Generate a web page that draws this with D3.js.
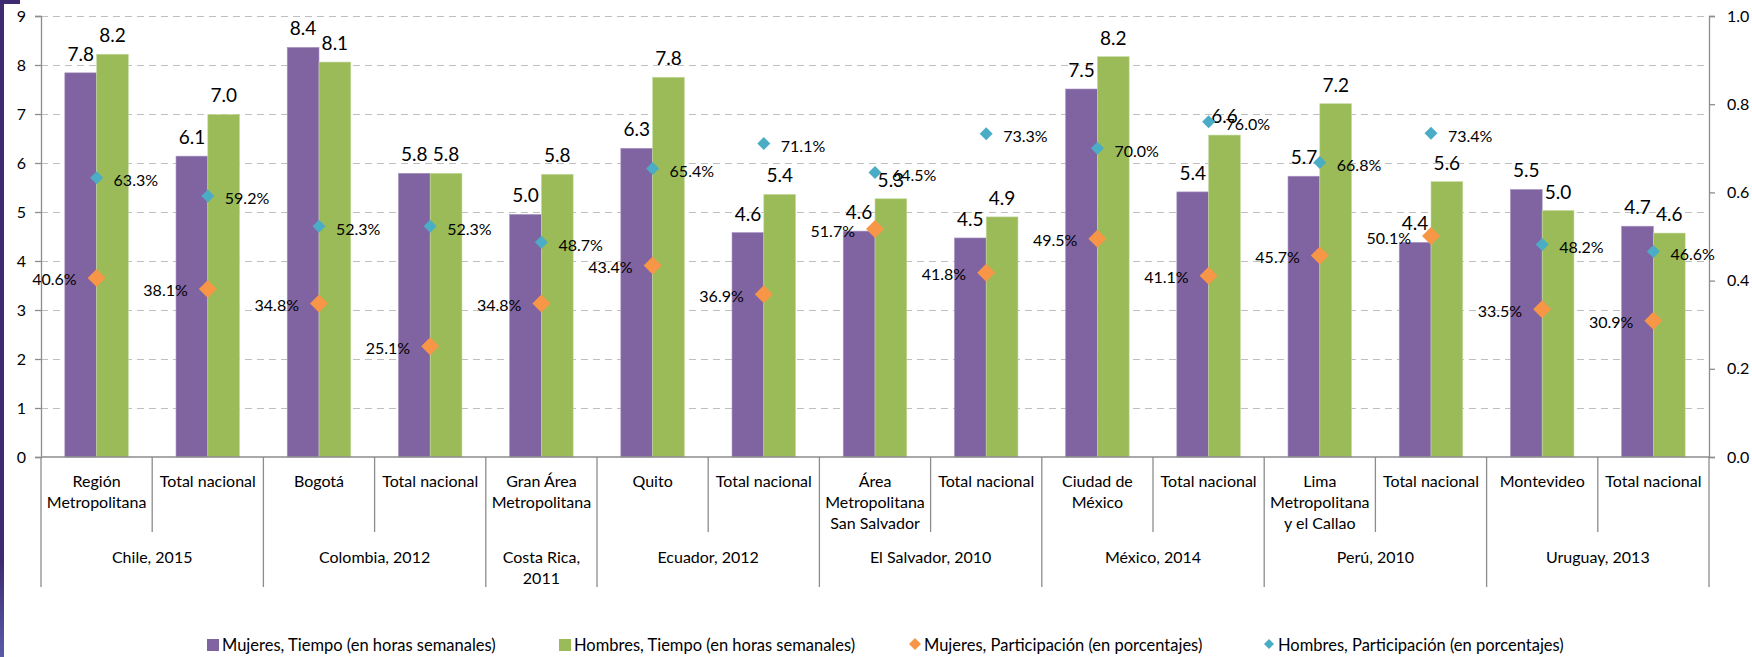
<!DOCTYPE html>
<html><head><meta charset="utf-8">
<script src="https://cdn.jsdelivr.net/npm/d3@7"></script>
<style>
html,body{margin:0;padding:0;background:#fff;}
svg{display:block;font-family:Lato, "Open Sans", sans-serif;}
</style></head>
<body>
<svg id="chart" width="1752" height="657"></svg>
<script>
// ---------- DATA ----------
const categories = [
  ["Región","Metropolitana"], ["Total nacional"],
  ["Bogotá"], ["Total nacional"],
  ["Gran Área","Metropolitana"],
  ["Quito"], ["Total nacional"],
  ["Área","Metropolitana","San Salvador"], ["Total nacional"],
  ["Ciudad de","México"], ["Total nacional"],
  ["Lima","Metropolitana","y el Callao"], ["Total nacional"],
  ["Montevideo"], ["Total nacional"]
];
const groups = [["Chile, 2015"], ["Colombia, 2012"], ["Costa Rica,","2011"], ["Ecuador, 2012"],
                ["El Salvador, 2010"], ["México, 2014"], ["Perú, 2010"], ["Uruguay, 2013"]];
const groupSizes = [2, 2, 1, 2, 2, 2, 2, 2];

const mujeresTiempo = [7.84, 6.14, 8.36, 5.79, 4.95, 6.30, 4.58, 4.61, 4.47, 7.51, 5.41, 5.73, 4.38, 5.46, 4.71];
const hombresTiempo = [8.22, 6.99, 8.06, 5.79, 5.77, 7.75, 5.36, 5.27, 4.90, 8.17, 6.57, 7.21, 5.62, 5.03, 4.57];
const mujeresPart   = [40.6, 38.1, 34.8, 25.1, 34.8, 43.4, 36.9, 51.7, 41.8, 49.5, 41.1, 45.7, 50.1, 33.5, 30.9];
const hombresPart   = [63.3, 59.2, 52.3, 52.3, 48.7, 65.4, 71.1, 64.5, 73.3, 70.0, 76.0, 66.8, 73.4, 48.2, 46.6];

const leftTicks  = [0,1,2,3,4,5,6,7,8,9];
const rightTicks = [0, 0.2, 0.4, 0.6, 0.8, 1.0];
const seriesNames = ["Mujeres,  Tiempo (en horas semanales)", "Hombres, Tiempo (en horas semanales)",
                     "Mujeres,  Participación (en porcentajes)", "Hombres, Participación (en porcentajes)"];
const colors = {mt:"#8064A2", ht:"#9BBB59", mp:"#F79646", hp:"#4BACC6"};

// ---------- LAYOUT ----------
const svg = d3.select("#chart");
const L = 41, R = 1709, T = 16, B = 457;
const idx = d3.range(categories.length);

// decoration strip on left
const defs = svg.append("defs");
const grad = defs.append("linearGradient").attr("id","strip").attr("x1",0).attr("x2",0).attr("y1",0).attr("y2",1);
grad.append("stop").attr("offset","0%").attr("stop-color","#3d2a70");
grad.append("stop").attr("offset","85%").attr("stop-color","#3d2a70");
grad.append("stop").attr("offset","100%").attr("stop-color","#5a5aa8");
svg.append("rect").attr("x",0).attr("y",0).attr("width",4).attr("height",657).attr("fill","url(#strip)");
svg.append("rect").attr("x",0).attr("y",0).attr("width",20).attr("height",4).attr("fill","#3d2a70");

const x0 = d3.scaleBand().domain(idx).range([L, R]).padding(0);
const x1 = d3.scaleBand().domain(["m","h"]).range([0, x0.bandwidth()]).paddingInner(0).paddingOuter(0.75);
const y = d3.scaleLinear().domain([0, 9]).range([B, T]);
const y2 = d3.scaleLinear().domain([0, 1]).range([B, T]);

// gridlines
svg.append("g").selectAll("line").data(leftTicks.filter(d => d > 0)).join("line")
  .attr("x1", L).attr("x2", R).attr("y1", d => y(d)).attr("y2", d => y(d))
  .attr("stroke", "#BFBFBF").attr("stroke-width", 1).attr("stroke-dasharray", "7,5")
  .attr("shape-rendering","crispEdges");

// bars
const bars = svg.append("g");
bars.selectAll(".bm").data(idx).join("rect")
  .attr("x", i => x0(i) + x1("m")).attr("width", x1.bandwidth())
  .attr("y", i => y(mujeresTiempo[i])).attr("height", i => B - y(mujeresTiempo[i]))
  .attr("fill", colors.mt).attr("stroke","#a893c0").attr("stroke-width",0.6);
bars.selectAll(".bh").data(idx).join("rect")
  .attr("x", i => x0(i) + x1("h")).attr("width", x1.bandwidth())
  .attr("y", i => y(hombresTiempo[i])).attr("height", i => B - y(hombresTiempo[i]))
  .attr("fill", colors.ht).attr("stroke","#c6dba0").attr("stroke-width",0.6);

// axes
const axisColor = "#8C8C8C";
const yAxis = svg.append("g").attr("transform", `translate(${L},0)`)
  .call(d3.axisLeft(y).tickValues(leftTicks).tickSize(6).tickPadding(9).tickFormat(d3.format("d")));
const y2Axis = svg.append("g").attr("transform", `translate(${R},0)`)
  .call(d3.axisRight(y2).tickValues(rightTicks).tickSize(6).tickPadding(12).tickFormat(d3.format(".1f")));
[yAxis, y2Axis].forEach(a => {
  a.select(".domain").attr("stroke", axisColor).attr("stroke-width",1.3);
  a.selectAll(".tick line").attr("stroke", axisColor).attr("stroke-width",1.3);
  a.selectAll("text").attr("font-size", 16).attr("fill", "#000").attr("font-family","Lato");
});

// category axis
const cat = svg.append("g");
cat.append("line").attr("x1", L).attr("x2", R).attr("y1", B).attr("y2", B)
  .attr("stroke", axisColor).attr("stroke-width", 1.3);
const groupStarts = groupSizes.reduce((acc, n, k) => { acc.push(k === 0 ? 0 : acc[k-1] + groupSizes[k-1]); return acc; }, []);
const groupBoundaries = new Set(groupStarts.concat([categories.length]));
d3.range(categories.length + 1).forEach(k => {
  const xx = k < categories.length ? x0(k) : R;
  const isGroup = groupBoundaries.has(k);
  cat.append("line").attr("x1", xx).attr("x2", xx).attr("y1", B).attr("y2", isGroup ? 587 : 532)
    .attr("stroke", axisColor).attr("stroke-width", 1.3);
});
idx.forEach(i => {
  const t = cat.append("text").attr("text-anchor","middle").attr("font-size",16).attr("fill","#000");
  categories[i].forEach((ln, j) => {
    t.append("tspan").attr("x", x0(i) + x0.bandwidth()/2).attr("y", 487 + j*21).text(ln);
  });
});
groups.forEach((g, k) => {
  const s = groupStarts[k], n = groupSizes[k];
  const cx = (x0(s) + (s + n < categories.length ? x0(s+n) : R)) / 2;
  const t = cat.append("text").attr("text-anchor","middle").attr("font-size",16).attr("fill","#000");
  g.forEach((ln, j) => t.append("tspan").attr("x", cx).attr("y", 563 + j*21).text(ln));
});

// bar labels
const lab = svg.append("g").attr("font-size", 19).attr("fill","#000").attr("text-anchor","middle");
lab.selectAll(".lm").data(idx).join("text")
  .attr("x", i => x0(i) + x1("m") + x1.bandwidth()/2).attr("y", i => y(mujeresTiempo[i]) - 12)
  .text(i => mujeresTiempo[i].toFixed(1));
lab.selectAll(".lh").data(idx).join("text")
  .attr("x", i => x0(i) + x1("h") + x1.bandwidth()/2).attr("y", i => y(hombresTiempo[i]) - 12)
  .text(i => hombresTiempo[i].toFixed(1));

// markers
const cxOf = i => x0(i) + x0.bandwidth()/2;
const diamond = (s) => `M0,${-s}L${s},0L0,${s}L${-s},0Z`;
const mk = svg.append("g");
mk.selectAll(".mp").data(idx).join("path")
  .attr("d", diamond(9)).attr("transform", i => `translate(${cxOf(i)},${y2(mujeresPart[i]/100)})`)
  .attr("fill", colors.mp);
mk.selectAll(".hp").data(idx).join("path")
  .attr("d", diamond(6.5)).attr("transform", i => `translate(${cxOf(i)},${y2(hombresPart[i]/100)})`)
  .attr("fill", colors.hp);

// marker labels
const pl = svg.append("g").attr("font-size", 16).attr("fill","#000");
pl.selectAll(".tmp").data(idx).join("text")
  .attr("x", i => cxOf(i) - 20).attr("y", i => y2(mujeresPart[i]/100) + 1)
  .attr("text-anchor","end").attr("dominant-baseline","central")
  .text(i => mujeresPart[i].toFixed(1) + "%");
pl.selectAll(".thp").data(idx).join("text")
  .attr("x", i => cxOf(i) + 17).attr("y", i => y2(hombresPart[i]/100) + 2)
  .attr("text-anchor","start").attr("dominant-baseline","central")
  .text(i => hombresPart[i].toFixed(1) + "%");

// legend
const legX = [207, 559, 912, 1266];
const leg = svg.append("g").attr("font-size", 16.5).attr("fill","#000");
seriesNames.forEach((nm, k) => {
  const g = leg.append("g").attr("transform", `translate(${legX[k]},645)`);
  if (k < 2) {
    g.append("rect").attr("x",0).attr("y",-6).attr("width",12).attr("height",12)
      .attr("fill", k === 0 ? colors.mt : colors.ht);
  } else {
    g.append("path").attr("d", diamond(k === 2 ? 6 : 5)).attr("transform","translate(3,-1)")
      .attr("fill", k === 2 ? colors.mp : colors.hp);
  }
  g.append("text").attr("x", k < 2 ? 15 : 12).attr("y", 0).attr("dominant-baseline","central").text(nm);
});
</script>
</body></html>
